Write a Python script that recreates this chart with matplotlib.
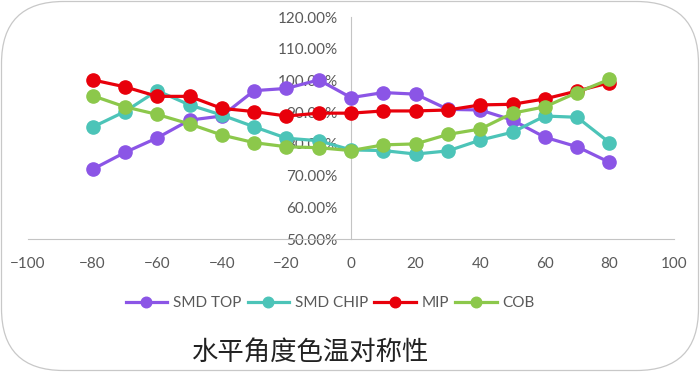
import matplotlib.pyplot as plt
from matplotlib.patches import FancyBboxPatch
from matplotlib.ticker import MultipleLocator, FuncFormatter

# 角度
angles = [-80, -70, -60, -50, -40, -30, -20, -10, 0, 10, 20, 30, 40, 50, 60, 70, 80]

# 各光源色温比例 (%)
smd_top = [72.0, 77.3, 81.9, 87.5, 88.8, 96.8, 97.5, 100.2, 94.6, 96.2, 95.7, 90.9, 90.7, 87.5, 82.1, 79.1, 74.2]
smd_chip = [85.3, 90.2, 96.8, 92.3, 89.1, 85.4, 81.8, 81.0, 78.1, 77.9, 76.8, 77.8, 81.2, 83.7, 88.8, 88.4, 80.4]
mip = [100.2, 98.0, 95.0, 95.0, 91.2, 90.2, 88.8, 89.7, 89.7, 90.4, 90.4, 90.7, 92.3, 92.5, 94.2, 96.7, 99.3]
cob = [95.2, 91.7, 89.3, 86.3, 82.8, 80.4, 79.1, 78.8, 77.9, 79.7, 80.0, 83.0, 84.7, 89.7, 91.7, 96.2, 100.4]

series_names = ["SMD TOP", "SMD CHIP", "MIP", "COB"]
series_colors = ["#8B55E6", "#4CC4B8", "#E8000B", "#8CC84B"]
title = "水平角度色温对称性"

plt.rcParams['font.family'] = ['Lato', 'DejaVu Sans']

fig = plt.figure(figsize=(7, 3.72), dpi=100)

# 圆角边框 (像素坐标)
border = FancyBboxPatch((1.5, 1.5), 697, 369, boxstyle="round,pad=0,rounding_size=62",
                        transform=None, facecolor="none", edgecolor="#c8c8c8",
                        linewidth=0.9, zorder=-1)
fig.patches.append(border)

ax = fig.add_axes([0.04, 0.3575, 0.923, 0.5965])
ax.patch.set_alpha(0)

for values, name, color in zip([smd_top, smd_chip, mip, cob], series_names, series_colors):
    ax.plot(angles, values, color=color, linewidth=2.3, marker="o", markersize=9.5, label=name)

ax.set_xlim(-100, 100)
ax.set_ylim(50, 120)
ax.xaxis.set_major_locator(MultipleLocator(20))
ax.yaxis.set_major_locator(MultipleLocator(10))
ax.yaxis.set_major_formatter(FuncFormatter(lambda v, p: "%.2f%%" % v))

ax.spines['top'].set_visible(False)
ax.spines['right'].set_visible(False)
ax.spines['left'].set_position(('data', 0))
ax.spines['left'].set_color("#c4c4c4")
ax.spines['bottom'].set_color("#c4c4c4")
ax.spines['left'].set_zorder(0.5)
ax.tick_params(axis='both', length=0, colors="#595959", labelsize=11)
ax.tick_params(axis='x', pad=13)
ax.tick_params(axis='y', pad=9.5)

fig.legend(loc="center", bbox_to_anchor=(0.472, 0.185), ncol=4, frameon=False,
           fontsize=11, labelcolor="#595959", handlelength=2.7, handletextpad=0.4,
           columnspacing=0.4, numpoints=1, markerscale=0.8)

fig.text(0.443, 0.054, title, ha="center", va="center", fontsize=19, color="#222222",
         family=['Noto Sans CJK SC', 'DejaVu Sans'])

plt.savefig("out.png", dpi=100)
